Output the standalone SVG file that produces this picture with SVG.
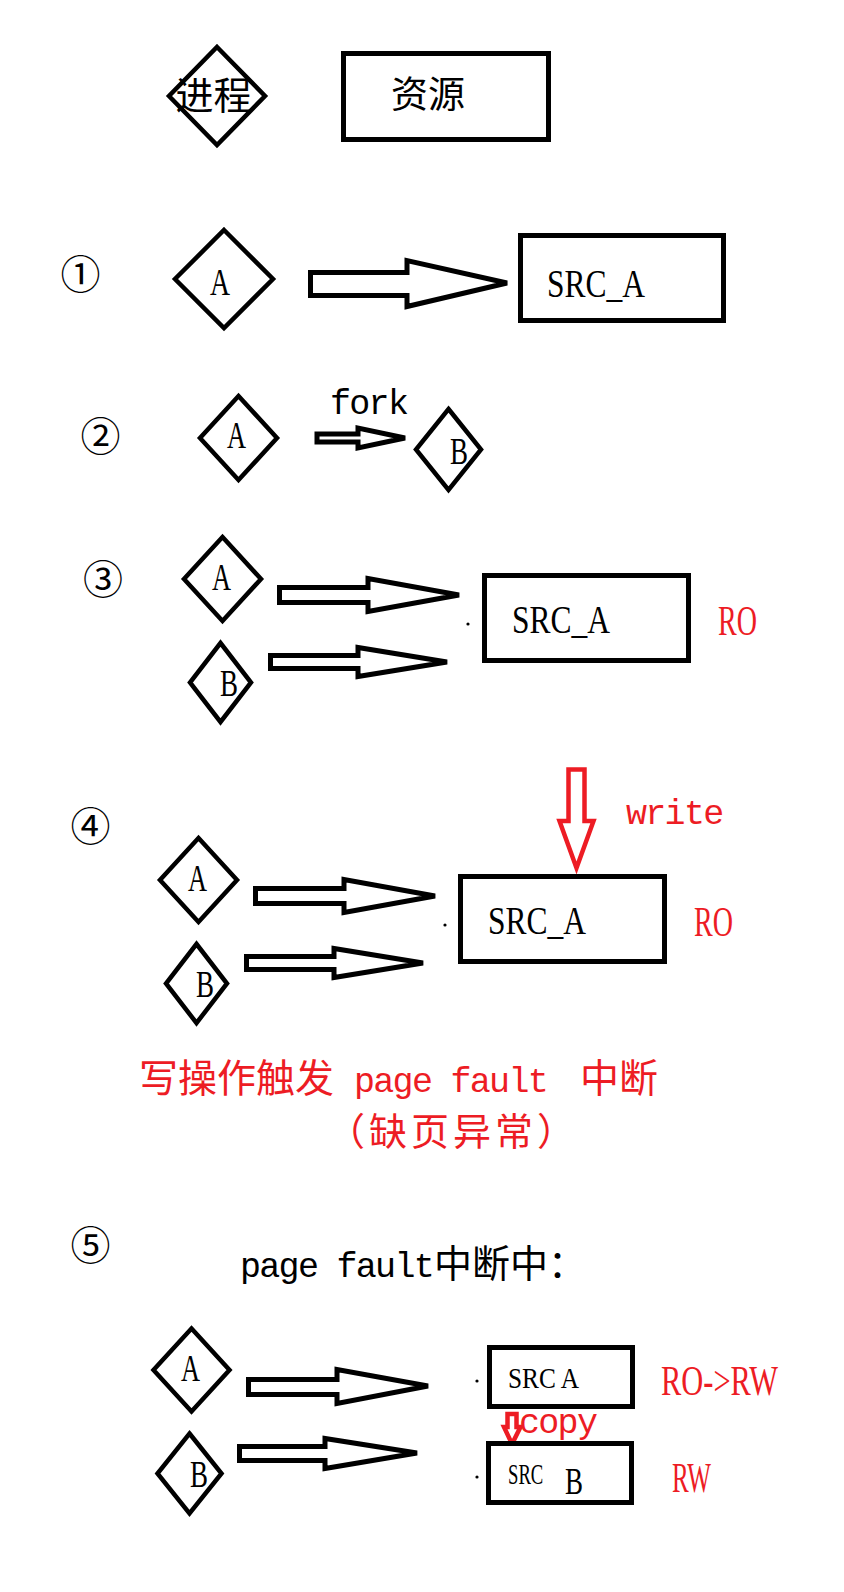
<svg xmlns="http://www.w3.org/2000/svg" width="844" height="1592" viewBox="0 0 844 1592">
<style>
.dia{fill:none;stroke:#000;stroke-width:4.5;stroke-linejoin:miter}
.box{fill:#fff;stroke:#000;stroke-width:5}
.arr{fill:#fff;stroke:#000;stroke-width:5;stroke-linejoin:miter}
.rarr{fill:#fff;stroke:#ED1C24;stroke-width:4.5;stroke-linejoin:miter}
.ser{font-family:"Liberation Serif",serif;fill:#000}
.mono{font-family:"Liberation Mono","Noto Sans CJK SC",monospace}
.lat{font-family:"Liberation Mono",monospace;font-size:35px;letter-spacing:-1.7px}
.cjk{font-family:"Noto Sans CJK SC",sans-serif}
.num{font-family:"Noto Sans CJK SC",sans-serif;font-size:40px;text-anchor:middle;dominant-baseline:central;fill:#000}
.red{fill:#ED1C24}
</style>
<rect width="844" height="1592" fill="#fff"/>

<g id="connectors">
  <polygon class="arr" points="310.5,272.5 407,272.5 407,260.5 507,283 407,306.5 407,295.5 310.5,295.5"/>
  <polygon class="arr" stroke-width="4" points="317,434 358,434 358,428 405,438 358,448 358,442 317,442"/>
  <polygon class="arr" points="279.5,587.5 368,587.5 368,578.5 459,595 368,611.5 368,602.5 279.5,602.5"/>
  <polygon class="arr" points="270.5,655.5 358,655.5 358,647.5 447,662 358,676.5 358,668.5 270.5,668.5"/>
  <polygon class="arr" points="255.5,888.5 344,888.5 344,879.5 435,896 344,912.5 344,903.5 255.5,903.5"/>
  <polygon class="arr" points="246.5,956.5 334,956.5 334,948.5 423,963 334,977.5 334,969.5 246.5,969.5"/>
  <polygon class="rarr" points="568.5,769.5 584.5,769.5 584.5,821 593.5,821 576.5,868 559.5,821 568.5,821"/>
  <polygon class="arr" points="248.5,1379.5 337,1379.5 337,1369.5 428,1386 337,1403.5 337,1394.5 248.5,1394.5"/>
  <polygon class="arr" points="239.5,1446.5 325,1446.5 325,1438.5 417,1453 325,1468.5 325,1460.5 239.5,1460.5"/>
  <polygon class="rarr" stroke-width="3.5" points="507.5,1414 516.5,1414 516.5,1427 520.5,1427 512,1444 504,1427 507.5,1427"/>
  <circle cx="468" cy="624" r="1.6"/>
  <circle cx="445" cy="925" r="1.6"/>
  <circle cx="477" cy="1381" r="1.6"/>
  <circle cx="477" cy="1477" r="1.6"/>
</g>

<g id="legend-process">
  <polygon class="dia" points="217,47 265,96 217,145 169,96"/>
  <text class="cjk" x="213.5" y="109" font-size="38" text-anchor="middle">进程</text>
</g>
<g id="legend-resource">
  <rect class="box" x="343.5" y="53.5" width="205" height="86"/>
  <text class="cjk" x="428" y="108" font-size="37" text-anchor="middle">资源</text>
</g>

<g id="step1">
  <text class="num" x="80.5" y="272">①</text>
</g>
<g id="s1-A">
  <polygon class="dia" points="224,230 273,279 224,328 175,279"/>
  <text class="ser" x="210" y="295" font-size="38" textLength="20" lengthAdjust="spacingAndGlyphs">A</text>
</g>
<g id="s1-src">
  <rect class="box" x="520.5" y="235.5" width="203" height="85"/>
  <text class="ser" x="547" y="297" font-size="41" textLength="98" lengthAdjust="spacingAndGlyphs">SRC_A</text>
</g>

<g id="step2">
  <text class="num" x="100.5" y="434">②</text>
  <text class="lat" x="330" y="414">fork</text>
</g>
<g id="s2-A">
  <polygon class="dia" points="238.5,396 277,438 238.5,480 200,438"/>
  <text class="ser" x="227" y="448" font-size="38" textLength="19" lengthAdjust="spacingAndGlyphs">A</text>
</g>
<g id="s2-B">
  <polygon class="dia" points="448.5,409 481,449.5 448.5,490 416,449.5"/>
  <text class="ser" x="450" y="464" font-size="38" textLength="18" lengthAdjust="spacingAndGlyphs">B</text>
</g>

<g id="step3">
  <text class="num" x="103" y="576.5">③</text>
</g>
<g id="s3-A">
  <polygon class="dia" points="222.5,537 261,579 222.5,621 184,579"/>
  <text class="ser" x="212" y="590" font-size="38" textLength="19" lengthAdjust="spacingAndGlyphs">A</text>
</g>
<g id="s3-B">
  <polygon class="dia" points="220.5,643 251,682.5 220.5,722 190,682.5"/>
  <text class="ser" x="220" y="696" font-size="38" textLength="18" lengthAdjust="spacingAndGlyphs">B</text>
</g>
<g id="s3-src">
  <rect class="box" x="484.5" y="575.5" width="204" height="85"/>
  <text class="ser" x="512" y="633" font-size="41" textLength="98" lengthAdjust="spacingAndGlyphs">SRC_A</text>
  <text class="ser red" x="718" y="635" font-size="42" textLength="39" lengthAdjust="spacingAndGlyphs">RO</text>
</g>

<g id="step4">
  <text class="num" x="90.5" y="824">④</text>
  <text class="lat red" x="626" y="824">write</text>
</g>
<g id="s4-A">
  <polygon class="dia" points="198.5,838 237,880 198.5,922 160,880"/>
  <text class="ser" x="188" y="891" font-size="38" textLength="19" lengthAdjust="spacingAndGlyphs">A</text>
</g>
<g id="s4-B">
  <polygon class="dia" points="196.5,944 227,983.5 196.5,1023 166,983.5"/>
  <text class="ser" x="196" y="997" font-size="38" textLength="18" lengthAdjust="spacingAndGlyphs">B</text>
</g>
<g id="s4-src">
  <rect class="box" x="460.5" y="876.5" width="204" height="85"/>
  <text class="ser" x="488" y="934" font-size="41" textLength="98" lengthAdjust="spacingAndGlyphs">SRC_A</text>
  <text class="ser red" x="694" y="936" font-size="42" textLength="39" lengthAdjust="spacingAndGlyphs">RO</text>
</g>

<g id="note">
  <text class="red" y="1092"><tspan class="cjk" x="139" font-size="39">写操作触发 </tspan><tspan class="lat" x="354">page fault </tspan><tspan class="cjk" x="580" font-size="39">中断</tspan></text>
  <text class="cjk red" x="327" y="1145" font-size="38" letter-spacing="4">（缺页异常）</text>
</g>

<g id="step5">
  <text class="num" x="90.5" y="1242.5">⑤</text>
  <text y="1277" fill="#000"><tspan class="lat" x="240">page fault</tspan><tspan class="cjk" x="434" font-size="38">中断中：</tspan></text>
</g>
<g id="s5-A">
  <polygon class="dia" points="191.5,1328.5 229.5,1370 191.5,1411.5 153.5,1370"/>
  <text class="ser" x="181" y="1381" font-size="38" textLength="19" lengthAdjust="spacingAndGlyphs">A</text>
</g>
<g id="s5-B">
  <polygon class="dia" points="189.5,1433.5 221.5,1473.5 189.5,1513.5 157.5,1473.5"/>
  <text class="ser" x="190" y="1487" font-size="38" textLength="18" lengthAdjust="spacingAndGlyphs">B</text>
</g>
<g id="s5-srcA">
  <rect class="box" x="489.5" y="1347.5" width="143" height="59"/>
  <text class="ser" x="508" y="1388" font-size="29" textLength="71" lengthAdjust="spacingAndGlyphs">SRC A</text>
  <text class="ser red" x="661" y="1395" font-size="42" textLength="117" lengthAdjust="spacingAndGlyphs">RO-&gt;RW</text>
</g>
<g id="s5-copy">
  <text class="lat red" x="519" y="1433">copy</text>
</g>
<g id="s5-srcB">
  <rect class="box" x="488.5" y="1443.5" width="143" height="59"/>
  <text class="ser" y="1484"><tspan x="508" font-size="29" textLength="40" lengthAdjust="spacingAndGlyphs">SRC </tspan><tspan x="565" y="1494" font-size="38" textLength="18" lengthAdjust="spacingAndGlyphs">B</tspan></text>
  <text class="ser red" x="672" y="1492" font-size="42" textLength="39" lengthAdjust="spacingAndGlyphs">RW</text>
</g>
</svg>
